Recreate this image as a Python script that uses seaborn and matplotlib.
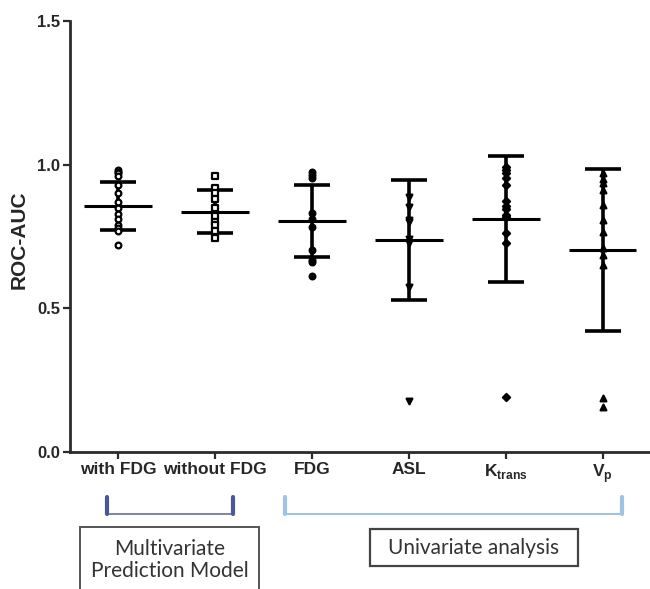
import numpy as np
import pandas as pd
import seaborn as sns
import matplotlib.pyplot as plt
from matplotlib.lines import Line2D
from matplotlib.patches import Rectangle
import matplotlib.transforms as mtransforms

# data
groups = ["with FDG", "without FDG", "FDG", "ASL", "Ktrans", "Vp"]
tick_labels = ["with FDG", "without FDG", "FDG", "ASL",
               r"K$_{\mathbf{trans}}$", r"V$_{\mathbf{p}}$"]

auc_with_fdg = [0.982, 0.975, 0.970, 0.960, 0.930, 0.900, 0.870, 0.850,
                0.830, 0.810, 0.790, 0.780, 0.770, 0.721]
auc_without_fdg = [0.959, 0.920, 0.900, 0.880, 0.850, 0.820, 0.800, 0.790,
                   0.770, 0.745]
auc_fdg = [0.976, 0.964, 0.955, 0.833, 0.810, 0.783, 0.703, 0.668, 0.660, 0.614]
auc_asl = [0.888, 0.854, 0.808, 0.800, 0.740, 0.727, 0.575, 0.178]
auc_ktrans = [0.993, 0.982, 0.970, 0.953, 0.930, 0.872, 0.856, 0.845, 0.825,
              0.817, 0.761, 0.726, 0.193]
auc_vp = [0.970, 0.949, 0.935, 0.912, 0.860, 0.808, 0.767, 0.709, 0.686,
          0.651, 0.187, 0.158]

# mean and SD as shown by the error bars
means = [0.857, 0.837, 0.804, 0.738, 0.811, 0.703]
sds = [0.084, 0.076, 0.126, 0.210, 0.220, 0.283]

markers = ["o", "s", "o", "v", "D", "^"]
faces = ["white", "white", "black", "black", "black", "black"]
sizes = [17, 19, 17, 17, 13, 17]

sns.set_theme(style="ticks")
plt.rcParams["font.family"] = ["Liberation Sans", "DejaVu Sans"]
plt.rcParams["mathtext.fontset"] = "custom"
plt.rcParams["mathtext.rm"] = "Liberation Sans"
plt.rcParams["mathtext.bf"] = "Liberation Sans:bold"

all_vals = [auc_with_fdg, auc_without_fdg, auc_fdg, auc_asl, auc_ktrans, auc_vp]
df = pd.concat([pd.DataFrame({"group": g, "pos": i, "auc": v})
                for i, (g, v) in enumerate(zip(groups, all_vals))],
               ignore_index=True)

fig = plt.figure(figsize=(6.5, 5.89), dpi=100)
ax = fig.add_axes([70 / 650, 1 - 452 / 589, 580 / 650, 431 / 589])

for i, g in enumerate(groups):
    sub = df[df["group"] == g]
    sns.scatterplot(data=sub, x="pos", y="auc", marker=markers[i], s=sizes[i],
                    color=faces[i], edgecolor="black", linewidth=1.6,
                    ax=ax, zorder=3, legend=False)

pos = np.arange(len(groups))
ax.errorbar(pos, means, yerr=sds, fmt="none", ecolor="black",
            elinewidth=2.6, capsize=13, capthick=2.6, zorder=2)
ax.errorbar(pos, means, xerr=0.35, fmt="none", ecolor="black",
            elinewidth=2.2, capsize=0, zorder=2)

ax.set_xlim(-0.495, 5.49)
ax.set_ylim(0, 1.5)
ax.set_yticks([0.0, 0.5, 1.0, 1.5])
ax.set_yticklabels(["0.0", "0.5", "1.0", "1.5"], fontsize=12, fontweight="bold")
ax.set_xticks(pos)
ax.set_xticklabels(tick_labels, fontsize=12.5, fontweight="bold")
ax.set_xlabel("")
ax.set_ylabel("ROC-AUC", fontsize=15, fontweight="bold")
ax.yaxis.set_label_coords(-0.072, (452 - 240) / 431)

sns.despine(ax=ax)
for s in ["left", "bottom"]:
    ax.spines[s].set_linewidth(2)
    ax.spines[s].set_color("#2b2b2b")
ax.tick_params(axis="both", length=5, width=1.6, color="#2b2b2b", pad=2)

# brackets under the x axis
trans = mtransforms.blended_transform_factory(ax.transData, fig.transFigure)
y_top = 1 - 497 / 589
y_bot = 1 - 514 / 589
dark = "#4a5899"
light = "#9fc3e4"
x0, x1 = -0.11, 1.19
fig.add_artist(Line2D([x0, x1], [y_bot, y_bot], transform=trans,
                      color="#6a6f9a", lw=1.2))
for xx in (x0, x1):
    fig.add_artist(Line2D([xx, xx], [y_top, y_bot], transform=trans,
                          color=dark, lw=3))
u0, u1 = 1.72, 5.20
fig.add_artist(Line2D([u0, u1], [y_bot, y_bot], transform=trans,
                      color=light, lw=1.4))
for xx in (u0, u1):
    fig.add_artist(Line2D([xx, xx], [y_top, y_bot], transform=trans,
                          color=light, lw=3))

# label boxes
fig.add_artist(Rectangle((80 / 650, -0.02), 179 / 650, (589 - 527) / 589 + 0.02,
                         transform=fig.transFigure, fill=False,
                         edgecolor="#555555", lw=1.4))
fig.text(170 / 650, 1 - 560 / 589, "Multivariate\nPrediction Model",
         ha="center", va="center", fontsize=15, family="Lato",
         color="#333333", linespacing=1.1)
fig.add_artist(Rectangle((370 / 650, 1 - 566 / 589), 208 / 650, 37 / 589,
                         transform=fig.transFigure, fill=False,
                         edgecolor="#444444", lw=1.6))
fig.text(474 / 650, 1 - 548 / 589, "Univariate analysis",
         ha="center", va="center", fontsize=15, family="Lato",
         color="#333333")

fig.savefig("out.png", dpi=100)
